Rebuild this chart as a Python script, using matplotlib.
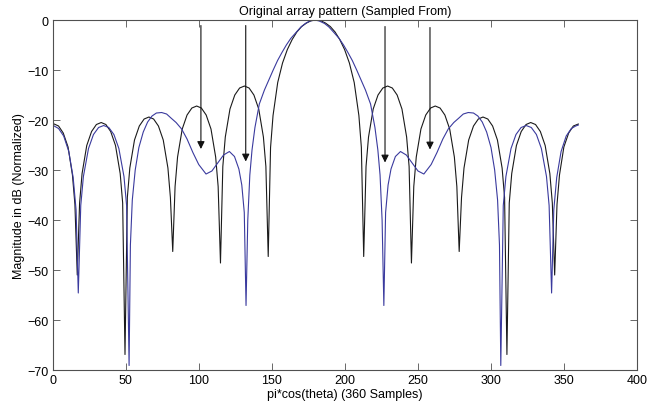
#!/usr/bin/env python3
"""Original vs sampled array pattern (dB) over 360 samples of pi*cos(theta)."""
import matplotlib
matplotlib.use('Agg')
import matplotlib.pyplot as plt


# original 11-element pattern (black)
ORIG_X = [
    1, 4, 7.2, 10.5, 13.5, 15.2, 16.8,
    18.4, 20.1, 23.3, 26.6, 29.9, 33.2, 36.4, 39.7, 43.0, 46.2, 47.9, 49.5,
    51.1, 52.8, 56.0, 59.3, 62.6, 65.9, 69.1, 72.4, 75.7, 78.9, 80.6, 82.2,
    83.8, 85.5, 88.7, 92.0, 95.3, 98.6, 101.8, 105.1, 108.4, 111.6, 113.3, 114.9,
    116.5, 118.2, 121.4, 124.7, 128.0, 131.3, 134.5, 137.8, 141.1, 144.3, 146.0, 147.6,
    149.2, 150.9, 154.1, 157.4, 160.7, 164.0, 167.2, 170.5, 173.8, 177.0, 180.3,
    183.6, 186.8, 190.1, 193.4, 196.6, 199.9, 203.2, 206.5, 209.7, 211.4, 213.0,
    214.6, 216.3, 219.5, 222.8, 226.1, 229.4, 232.6, 235.9, 239.2, 242.4, 244.1, 245.7,
    247.3, 249.0, 252.2, 255.5, 258.8, 262.0, 265.3, 268.6, 271.9, 275.1, 276.8, 278.4,
    280.0, 281.7, 284.9, 288.2, 291.5, 294.7, 298.0, 301.3, 304.6, 307.8, 309.5, 311.1,
    312.7, 314.4, 317.6, 320.9, 324.2, 327.4, 330.7, 334.0, 337.3, 340.5, 342.2, 343.8,
    345.4, 347.1, 350.1, 353.4, 356.6, 360,
]
ORIG_DB = [
    -20.8, -21.2, -22.6, -25.4, -31.0, -36.9, -51.0,
    -36.6, -30.7, -25.1, -22.3, -20.9, -20.5, -20.9, -22.3, -25.1, -30.7, -36.6, -66.9,
    -35.5, -29.6, -24.0, -21.2, -19.8, -19.4, -19.8, -21.2, -24.0, -29.6, -35.5, -46.3,
    -33.3, -27.4, -21.8, -19.0, -17.6, -17.2, -17.6, -19.0, -21.8, -27.4, -33.3, -48.6,
    -29.3, -23.4, -17.8, -15.0, -13.6, -13.2, -13.6, -15.0, -17.8, -23.4, -29.3, -47.3,
    -25.5, -19.1, -12.5, -8.6, -5.9, -3.9, -2.4, -1.3, -0.6, -0.14, 0.0,
    -0.14, -0.6, -1.3, -2.4, -3.9, -5.9, -8.6, -12.5, -19.1, -25.5, -47.3,
    -29.3, -23.4, -17.8, -15.0, -13.6, -13.2, -13.6, -15.0, -17.8, -23.4, -29.3, -48.6,
    -33.3, -27.4, -21.8, -19.0, -17.6, -17.2, -17.6, -19.0, -21.8, -27.4, -33.3, -46.3,
    -35.5, -29.6, -24.0, -21.2, -19.8, -19.4, -19.8, -21.2, -24.0, -29.6, -35.5, -66.9,
    -36.6, -30.7, -25.1, -22.3, -20.9, -20.5, -20.9, -22.3, -25.1, -30.7, -36.6, -51.0,
    -36.9, -31.0, -25.4, -22.6, -21.2, -20.8,
]

# sampled pattern (blue)
SAMP_X = [
    1, 4, 7.5, 11, 14, 16, 17.5,
    19.2, 21.0, 24.5, 27.9, 31.4, 34.9, 38.4, 41.9, 45.3, 48.8, 50.6, 52.3,
    53.2, 54.5, 56.5, 59, 62, 65, 68, 71, 74.6, 78, 81, 84.5, 88.3, 92, 96, 100,
    105, 109, 113, 117, 121, 124.5, 127.5, 129.5, 131.2, 132.4,
    133.6, 135, 136.5, 138.5, 141.5, 145, 148, 151, 154, 157, 160, 163, 166.6,
    170, 173, 176, 179.6,
    182.6, 186.2, 189.2, 192.6, 196.2, 199.2, 202.2, 205.2, 208.2, 211.2, 214.2,
    217.7, 220.7, 222.7, 224.2, 225.6, 226.8,
    228.0, 229.7, 231.7, 234.7, 238.2, 242.2, 246.2, 250.2, 254.2, 259.2, 263.2,
    267.2, 270.9, 274.7, 278.2, 281.2, 284.6, 288.2, 291.2, 294.2, 297.2, 300.2,
    302.7, 304.7, 306.0, 306.9,
    308.6, 310.4, 313.9, 317.3, 320.8, 324.3, 327.8, 331.3, 334.7, 338.2, 340.0, 341.7,
    343.2, 345.2, 348.2, 351.7, 355.2, 358.2, 360,
]
SAMP_DB = [
    -21.2, -21.7, -23.2, -26.3, -31.5, -38.0, -54.6,
    -37.1, -31.3, -25.7, -22.9, -21.5, -21.1, -21.5, -22.9, -25.7, -31.3, -37.1, -69.1,
    -45.0, -36.0, -30.0, -25.5, -22.4, -20.4, -19.2, -18.6, -18.5, -18.8, -19.6, -20.5,
    -21.8, -23.8, -26.5, -28.9,
    -30.8, -30.2, -28.6, -27.0, -26.3, -27.3, -29.8, -33.0, -38.5, -57.1,
    -40.0, -31.0, -26.0, -21.5, -16.8, -14.0, -12.0, -10.0, -8.1, -6.5, -5.0, -3.7, -2.5,
    -1.4, -0.7, -0.2, 0.0,
    -0.2, -0.7, -1.4, -2.5, -3.7, -5.0, -6.5, -8.1, -10.0, -12.0, -14.0,
    -16.8, -21.5, -26.0, -31.0, -40.0, -57.1,
    -38.5, -33.0, -29.8, -27.3, -26.3, -27.0, -28.6, -30.2, -30.8, -28.9, -26.5,
    -23.8, -21.8, -20.5, -19.6, -18.8, -18.5, -18.6, -19.2, -20.4, -22.4, -25.5,
    -30.0, -36.0, -45.0, -69.1,
    -37.1, -31.3, -25.7, -22.9, -21.5, -21.1, -21.5, -22.9, -25.7, -31.3, -37.1, -54.6,
    -38.0, -31.5, -26.3, -23.2, -21.7, -21.2, -21.0,
]

# arrows: x position, start level, tip level
ARROW_X = [101.5, 132.2, 227.6, 258.4]
ARROW_TOP = [-1.1, -1.1, -1.3, -1.5]
ARROW_TIP = [-25.8, -28.3, -28.5, -25.9]

X_TICKS = [0, 50, 100, 150, 200, 250, 300, 350, 400]
Y_TICKS = [-70, -60, -50, -40, -30, -20, -10, 0]


def main():
    plt.rcParams.update({
        'font.family': ['Liberation Sans', 'DejaVu Sans'],
        'font.size': 9,
    })
    fig = plt.figure(figsize=(6.47, 4.02), dpi=100)
    ax = fig.add_axes([0.0815, 0.0771, 0.9026, 0.8706])

    ax.plot(ORIG_X, ORIG_DB, color='#1a1a1a', linewidth=0.8)
    ax.plot(SAMP_X, SAMP_DB, color='#3a3a9e', linewidth=0.8)

    for x, top, tip in zip(ARROW_X, ARROW_TOP, ARROW_TIP):
        ax.annotate(
            '', xy=(x, tip), xytext=(x, top),
            arrowprops=dict(arrowstyle='-|>', color='#111111', lw=0.8,
                            mutation_scale=11, shrinkA=0, shrinkB=0),
        )

    ax.set_xlim(0, 400)
    ax.set_ylim(-70, 0)
    ax.set_xticks(X_TICKS)
    ax.set_yticks(Y_TICKS)
    ax.tick_params(direction='in', top=True, right=True, length=5,
                   width=0.6, color='#505050', labelsize=9, pad=3)
    for spine in ax.spines.values():
        spine.set_color('#505050')
        spine.set_linewidth(0.8)

    ax.set_title('Original array pattern (Sampled From)', fontsize=9, pad=4)
    ax.set_xlabel('pi*cos(theta) (360 Samples)', fontsize=9, labelpad=1)
    ax.set_ylabel('Magnitude in dB (Normalized)', fontsize=9, labelpad=2)

    fig.savefig('out.png', dpi=100)
    plt.close(fig)


if __name__ == '__main__':
    main()
